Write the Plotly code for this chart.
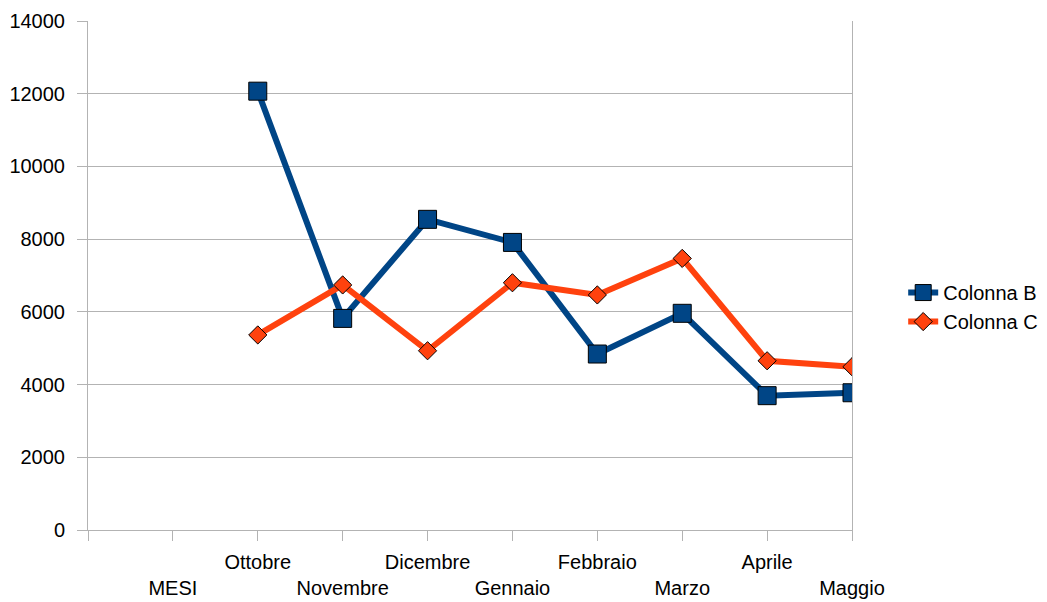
import plotly.graph_objects as go

categories = ["", "MESI", "Ottobre", "Novembre", "Dicembre", "Gennaio",
              "Febbraio", "Marzo", "Aprile", "Maggio"]
colonna_b = [None, None, 12070, 5820, 8545, 7910, 4840, 5960, 3695, 3775]
colonna_c = [None, None, 5365, 6740, 4930, 6800, 6465, 7470, 4655, 4490]
y_ticks = [0, 2000, 4000, 6000, 8000, 10000, 12000, 14000]

# staggered category labels (alternate rows)
tick_text = [c if i % 2 == 0 else "<br>" + c for i, c in enumerate(categories)]
x_pos = list(range(len(categories)))

fig = go.Figure()
fig.add_trace(go.Scatter(
    x=x_pos, y=colonna_b, name="Colonna B", mode="lines+markers",
    line=dict(color="#004586", width=6),
    marker=dict(symbol="square", size=18, color="#004586",
                line=dict(color="#000000", width=1)),
))
fig.add_trace(go.Scatter(
    x=x_pos, y=colonna_c, name="Colonna C", mode="lines+markers",
    line=dict(color="#ff420e", width=6),
    marker=dict(symbol="diamond", size=14, color="#ff420e",
                line=dict(color="#000000", width=1)),
))

fig.update_layout(
    width=1047, height=602,
    margin=dict(l=88, r=195, t=21, b=72, autoexpand=False),
    paper_bgcolor="white", plot_bgcolor="white",
    font=dict(family="Liberation Sans, Arial, sans-serif", size=20, color="#000000"),
    showlegend=True,
    legend=dict(x=1.067, xanchor="left", y=0.438, yanchor="middle",
                font=dict(size=20), itemwidth=30, tracegroupgap=0,
                bgcolor="rgba(0,0,0,0)"),
)
fig.update_xaxes(
    range=[0, 9], tickmode="array", tickvals=x_pos, ticktext=tick_text,
    tickangle=0, automargin=False,
    showgrid=False, zeroline=False,
    showline=True, linecolor="#b3b3b3", linewidth=1, mirror=False,
    ticks="outside", ticklen=10, tickcolor="#b3b3b3", tickwidth=1,
    ticklabelstandoff=4,
)
fig.update_yaxes(
    range=[0, 14000], tickmode="array", tickvals=y_ticks,
    ticktext=[str(v) for v in y_ticks], automargin=False,
    showgrid=True, gridcolor="#b3b3b3", gridwidth=1, zeroline=False,
    showline=True, linecolor="#b3b3b3", linewidth=1, mirror=True,
    ticks="outside", ticklen=10, tickcolor="#b3b3b3", tickwidth=1,
    ticklabelstandoff=8,
)

fig.write_html("out.html", config={"displayModeBar": False},
               post_script="document.body.style.margin='0';")
